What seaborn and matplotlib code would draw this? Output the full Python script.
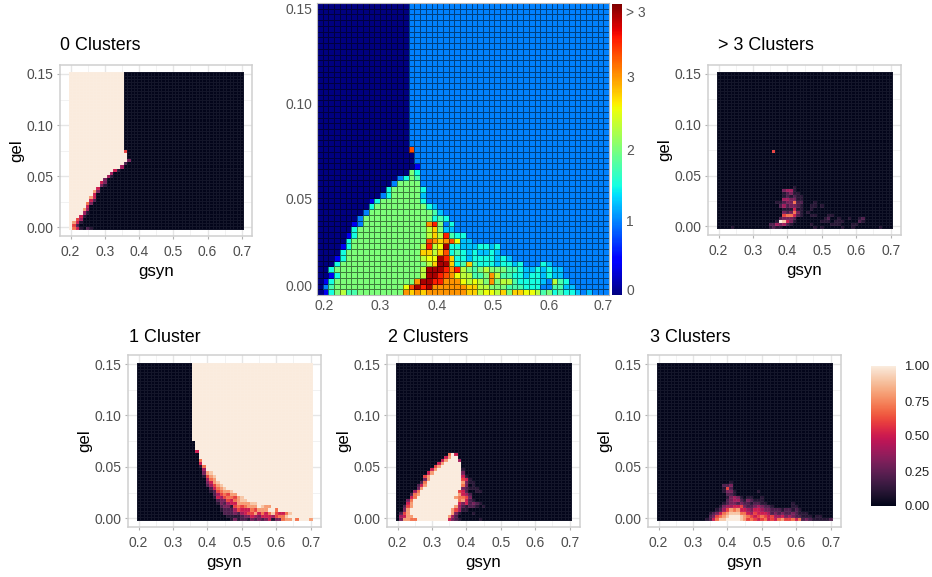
import numpy as np
import pandas as pd
import matplotlib
matplotlib.use("Agg")
import matplotlib.pyplot as plt
import seaborn as sns

# Cell values, row 0 = gel 0.00, column 0 = gsyn 0.20.
# Short rows continue with the fill value, the last row repeats up to gel 0.15.
gsyn = np.round(0.2 + 0.01 * np.arange(51), 2)
gel = np.round(0.003 * np.arange(51), 3)

# 0-9 = tenths, X = 1.0
zero_rows = [
    "X751021", "X62", "X851", "XX64", "XXX51", "XXXX41", "XXXX84", "XXXXX5",
    "XXXXX73", "XXXXXX52", "XXXXXX85", "XXXXXXX5", "XXXXXXX83", "XXXXXXXX5",
    "XXXXXXXXX31", "XXXXXXXXX53", "XXXXXXXXXX3", "XXXXXXXXXXX41",
    "XXXXXXXXXXXX4", "XXXXXXXXXXXXX51", "XXXXXXXXXXXXXXX4",
    "XXXXXXXXXXXXXXXX2", "XXXXXXXXXXXXXXXXX3", "XXXXXXXXXXXXXXXXX",
    "XXXXXXXXXXXXXXXXX", "XXXXXXXXXXXXXXXX6", "XXXXXXXXXXXXXXXX",
]
one_rows = [
    "0000000000 0000000000 0000000131 2213232351 33788X7XXX8",
    "0000000000 0000000000 0000001111 2335435554 6779",
    "0000000000 0000000000 0000022232 4566857579 65579",
    "0000000000 0000000000 0000122246 55576888XX 7",
    "0000000000 0000000000 0000233167 67888X988X",
    "0000000000 0000000000 0001324558 88899",
    "0000000000 0000000000 0002336578 99",
    "0000000000 0000000000 0015467768 9",
    "0000000000 0000000000 002467688",
    "0000000000 0000000000 01267889",
    "0000000000 0000000000 025789",
    "0000000000 0000000000 24689",
    "0000000000 0000000000 3589",
    "0000000000 0000000000 478",
    "0000000000 0000000001 689",
    "0000000000 0000000003 89",
    "0000000000 0000000004",
    "0000000000 0000000017",
    "0000000000 000000005",
    "0000000000 000000007",
    "0000000000 00000000",
    "0000000000 00000000",
    "0000000000 00000005",
    "0000000000 0000000",
    "0000000000 0000000",
    "0000000000 0000000",
    "0000000000 000000",
]
two_rows = [
    "0388 77XXXX XXXXX53210 0000100000",
    "04588XXXXX XXXXX84200",
    "0268XXXXXX XXXXXX8310 0010000000",
    "0038XXXXXX XXXXXX8641 1",
    "00268XXXXX XXXXXXX842 122101",
    "00058XXXXX XXXXXXXX53 52321",
    "00037XXXXX XXXXXXXX78 521",
    "000057XXXX XXXXXXX877 63",
    "0000278XXX XXXXXXXX85 42",
    "0000047XXX XXXXXXXX65 20011",
    "00000038XX XXXXXXXXX3 2111",
    "000000258X XXXXXXXXX7 301",
    "000000027X XXXXXXXXX8 311",
    "0000000038 XXXXXXXXX6 51",
    "0000000068 XXXXXXXXX5 1",
    "0000000005 8XXXXXXXX3",
    "0000000000 58XXXXXXX1",
    "0000000000 068XXXXXX0",
    "0000000000 0058XXXXX0",
    "0000000000 00058XXX40",
    "0000000000 000058XX00",
    "0000000000 000007X500",
    "0",
]
three_rows = [
    "0000000000 0000125799 XXXX986765 6756578667 57232111112",
    "0000000000 0000023678 9XXX987656 7656445343 22111011",
    "0000000000 0000012357 8999775465 5542323223 2111",
    "0000000000 0000000124 6878554355 4332221221 21",
    "0000000000 0000000013 4455632234 3221000001 1",
    "0000000000 0000000001 2332322122 1100000001",
    "0000000000 0000000000 2344213211 1",
    "0000000000 0000000000 1343101100 1",
    "0000000000 0000000000 221",
    "0000000000 0000000001 3310000001",
    "0000000000 0000000001 62",
    "0000000000 0000000002 23",
    "0000000000 0000000000 01",
    "0",
]
more_rows = [
    "0000100000 0000012110 0000000010 1000001001 00000001",
    "0000000000 0000022434 2100000100 0001110001 1",
    "0000000000 00000001X9 5310000000 1110111000 021",
    "0000000000 0000000023 3320000000 0120010010 012",
    "0000000000 0000000006 7752100110 0011",
    "0000000000 0000000003 2373101",
    "0000000000 0000000001 11511001",
    "0000000000 0000000024 2332100110 1",
    "0000000000 0000000112 337220001",
    "0000000000 0000000004 433110",
    "0000000000 0000000001 21211",
    "0000000000 0000000001 2311",
    "0000000000 0000000003 441",
    "0000000000 0000000000 001",
    "0", "0", "0", "0", "0", "0", "0", "0", "0", "0", "0",
    "0000000000 0000006",
    "0",
]

# mean cluster count, letters looked up in mean_levels
mean_levels = {"0": 0.0, "1": 0.4, "a": 1.0, "b": 1.25, "c": 1.5, "d": 1.75, "g": 2.0,
               "h": 2.3, "y": 2.55, "o": 2.75, "r": 3.0, "s": 3.3, "R": 3.5, "D": 3.85}
mean_rows = [
    "01cghddggg gggggroror rrrrrroohy yhogooyyhd gcdccbabaaa",
    "0adggggggg gggggysDRD rrrrrroohh gggdddccca addbbaaaaaa",
    "01cggggggg gggggggrDD RRrrryhyhg rghhdccccb ahdcaaaaaaa",
    "001cgggggg gggggggghD DRsryhhddg rhddccbccb cbbaaaaaaaa",
    "00cggggggg gggggggghD DDRrRhgdgh gggddcbbcb cbbaaaaaaaa",
    "000cgggggg gggggggggh oDDocdodcc cbccbcaaac baaaaaaaaaa",
    "0001cggggg gggggggghy yDRoccbccc cbcbaaaaaa",
    "0000cggggg ggggggggoo hoscdcbcbb cbaaaaaaaa",
    "00001cgggg gggggggghR hyDccbbbcc bcaaaaaaaa",
    "00000cgggg gggggggggs rorsybbaaa",
    "000001cggg gggggggggh ohRdccaaaa",
    "000000cggg gggggggggh ogbbaaaaaa",
    "0000001agg gggggggggr Rgacaaaaaa",
    "0000000agg gggggggggg cdcaaaaaaa",
    "00000000ag gggggggggg dbaaaaaaaa",
    "000000000c gggggggggc baaaaaaaaa",
    "0000000001 cgggggggca",
    "0000000000 0acgggggba",
    "0000000000 00cgggggca",
    "0000000000 000aggggaa",
    "0000000000 0000acgdaa",
    "0000000000 000000gcaa",
    "0000000000 00000001aa",
    "0000000000 0000000aaa",
    "0000000000 0000000aaa",
    "0000000000 000000saaa",
    "0000000000 000000aaaa",
]

W, H = 932, 577
sns.set_theme(style="white")
plt.rcParams["font.family"] = ["Liberation Sans", "DejaVu Sans"]


def to_frame(rows, fill, levels=None):
    cells = [r.replace(" ", "").ljust(51, fill) for r in rows]
    cells += [cells[-1]] * (51 - len(cells))
    if levels is None:
        levels = {str(i): i / 10 for i in range(10)}
        levels["X"] = 1.0
    values = [[levels[c] for c in r] for r in cells]
    return pd.DataFrame(values, index=gel, columns=gsyn)


def px_axes(left, top, right, bottom):
    return fig.add_axes([left / W, 1 - bottom / H, (right - left) / W, (bottom - top) / H])


def col_pos(g):
    return (np.asarray(g) - 0.2) / 0.01 + 0.5


def row_pos(g):
    return np.asarray(g) / 0.003 + 0.5


fig = plt.figure(figsize=(W / 100, H / 100), dpi=100)

x_major = [0.2, 0.3, 0.4, 0.5, 0.6, 0.7]
y_major = [0.0, 0.05, 0.10, 0.15]
y_minor = [0.025, 0.075, 0.125]
x_minor = [0.25, 0.35, 0.45, 0.55, 0.65]


def small_panel(box, df, title, title_x, title_y, cax=None):
    ax = px_axes(*box)
    sns.heatmap(df, ax=ax, cmap="rocket", vmin=0, vmax=1, cbar=cax is not None, cbar_ax=cax,
                xticklabels=False, yticklabels=False,
                linewidths=0.5, linecolor=(1, 1, 1, 0.07))
    ax.set_xlim(col_pos(0.169), col_pos(0.73))
    ax.set_ylim(row_pos(-0.0085), row_pos(0.1588))
    ax.set_xticks(col_pos(x_major))
    ax.set_xticklabels([f"{v:.1f}" for v in x_major], rotation=0)
    ax.set_yticks(row_pos(y_major))
    ax.set_yticklabels([f"{v:.2f}" for v in y_major], rotation=0)
    ax.set_xticks(col_pos(x_minor), minor=True)
    ax.set_yticks(row_pos(y_minor), minor=True)
    ax.tick_params(which="major", length=2.5, width=0.8, color="#b3b3b3", labelcolor="#4d4d4d",
                   labelsize=10, bottom=True, left=True)
    ax.tick_params(axis="x", which="major", pad=4)
    ax.tick_params(axis="y", which="major", pad=2)
    ax.tick_params(which="minor", length=0)
    ax.grid(which="major", color="#e6e6e6", lw=1.0)
    ax.grid(which="minor", color="#f0f0f0", lw=0.6)
    ax.set_axisbelow(True)
    for side in ax.spines.values():
        side.set_visible(True)
        side.set_color("#cfcfcf")
        side.set_linewidth(1.1)
    ax.set_xlabel("gsyn", fontsize=12.2, color="black", labelpad=3.5)
    ax.set_ylabel("gel", fontsize=12.2, color="black", labelpad=1.5)
    fig.text(title_x / W, 1 - title_y / H, title, fontsize=12.9, color="black", va="center")
    return ax


# -------- Fraction panels --------
small_panel((60, 65, 252, 236), to_frame(zero_rows, "0"), "0 Clusters", 60, 46)
small_panel((708, 65, 901, 235), to_frame(more_rows, "0"), "> 3 Clusters", 718, 46)
small_panel((128, 355, 321, 527), to_frame(one_rows, "X"), "1 Cluster", 129, 337)
small_panel((387, 355, 580, 527), to_frame(two_rows, "0"), "2 Clusters", 388, 337)

# shared colour legend comes with the last panel
legend_ax = px_axes(871, 366, 896, 506)
small_panel((648, 355, 841, 527), to_frame(three_rows, "0"), "3 Clusters", 650, 337, cax=legend_ax)
legend_ax.set_yticks([0, 0.25, 0.5, 0.75, 1.0])
legend_ax.set_yticklabels(["0.00", "0.25", "0.50", "0.75", "1.00"])
legend_ax.tick_params(axis="y", direction="in", left=True, right=True, length=5, width=0.8,
                      color="white", labelcolor="#222222", labelsize=9.4, pad=6)
for side in legend_ax.spines.values():
    side.set_visible(False)

# -------- Centre panel, mean number of clusters --------
centre_ax = px_axes(317, 3, 609, 295)
bar_ax = px_axes(612, 4, 622, 295)
sns.heatmap(to_frame(mean_rows, "a", mean_levels), ax=centre_ax, cmap="jet", vmin=0, vmax=4,
            cbar_ax=bar_ax, xticklabels=False, yticklabels=False,
            linewidths=0.4, linecolor=(0, 0, 0, 0.5))
centre_ax.set_xlim(0, 51)
centre_ax.set_ylim(0, 51)
centre_ax.set_xticks(col_pos(x_major) + [0.7, 0.6, 0.5, 0.2, 0.0, -0.5])
centre_ax.set_xticklabels([f"{v:.1f}" for v in x_major], rotation=0)
centre_ax.set_yticks(row_pos(y_major) + [1.2, -0.3, -0.4, -0.4])
centre_ax.set_yticklabels([f"{v:.2f}" for v in y_major], rotation=0)
centre_ax.tick_params(length=0, labelcolor="#555555", labelsize=10, pad=3)
for side in centre_ax.spines.values():
    side.set_visible(True)
    side.set_color("#bbbbbb")
    side.set_linewidth(0.8)

bar_ax.set_yticks([0.08, 1.03, 2.0, 3.0, 3.9])
bar_ax.set_yticklabels(["0", "1", "2", "3", "> 3"])
bar_ax.tick_params(axis="y", length=0, labelcolor="#555555", labelsize=10, pad=3)

fig.savefig("out.png", dpi=100)
